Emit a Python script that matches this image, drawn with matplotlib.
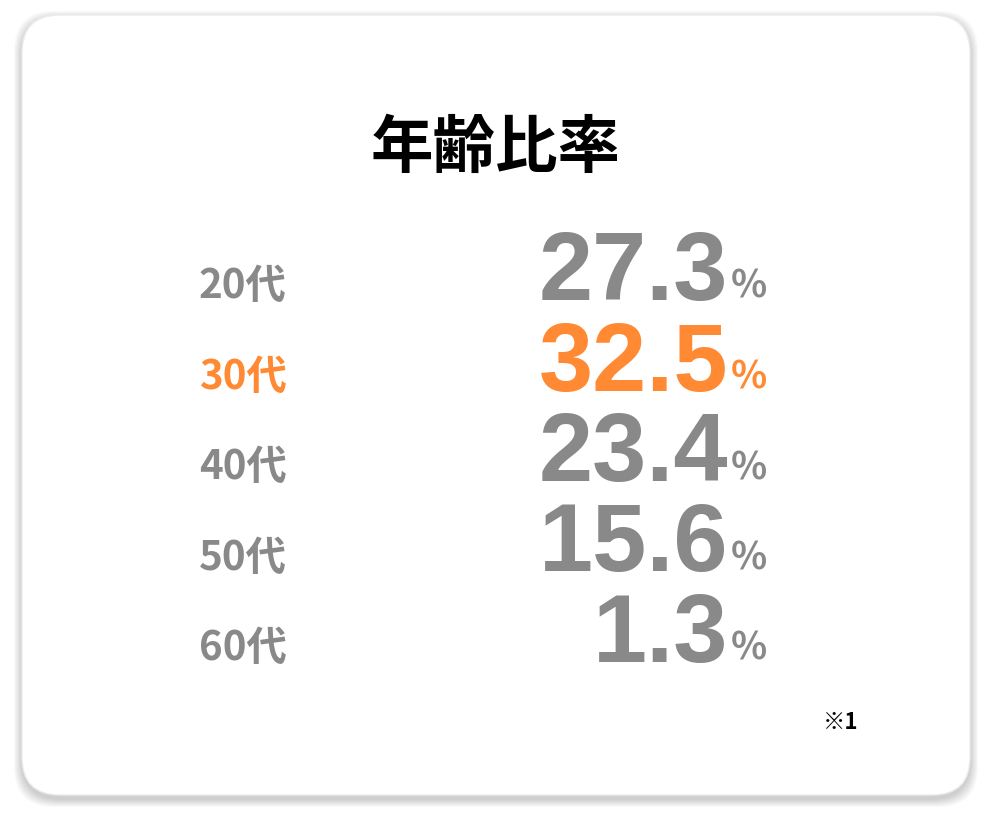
import matplotlib.pyplot as plt
from matplotlib.patches import FancyBboxPatch

plt.rcParams['font.family'] = ['Noto Sans CJK JP', 'DejaVu Sans']

title = '年齢比率'
ages = ['20代', '30代', '40代', '50代', '60代']
ratios = [27.3, 32.5, 23.4, 15.6, 1.3]
highlight = '30代'
note = '※1'

gray = '#898989'
orange = '#ff8a33'
num_font = ['Liberation Sans Narrow', 'Liberation Sans', 'DejaVu Sans']

fig = plt.figure(figsize=(9.93, 8.21), dpi=100)
ax = fig.add_axes([0, 0, 1, 1])
ax.set_xlim(0, 993)
ax.set_ylim(821, 0)
ax.axis('off')

# card with soft shadow
for i in range(8):
    off = 8 - i
    ax.add_patch(FancyBboxPatch((22 - off, 15 - off + 4), 948 + 2 * off, 780 + 2 * off,
                                boxstyle='round,pad=0,rounding_size=40',
                                fc='black', ec='none', alpha=0.025))
ax.add_patch(FancyBboxPatch((22, 15), 948, 780, boxstyle='round,pad=0,rounding_size=38',
                            fc='white', ec='#ececec', lw=1))

ax.text(496, 148, title, ha='center', va='center', fontsize=45, fontweight='bold', color='black')

y0, step = 300, 90.5
for i, (age, r) in enumerate(zip(ages, ratios)):
    c = orange if age == highlight else gray
    y = y0 + i * step
    ax.text(199, y - 2, age, ha='left', va='baseline', fontsize=29, fontweight='bold', color=c)
    ax.text(728, y, f'{r:.1f}', ha='right', va='baseline', fontsize=70, fontweight='bold',
            color=c, family=num_font)
    ax.text(731, y - 2, '%', ha='left', va='baseline', fontsize=27, fontweight='bold', color=c)

ax.text(858, 722, note, ha='right', va='center', fontsize=16, fontweight='bold', color='black')

fig.savefig('out.png', dpi=100, facecolor='white')
